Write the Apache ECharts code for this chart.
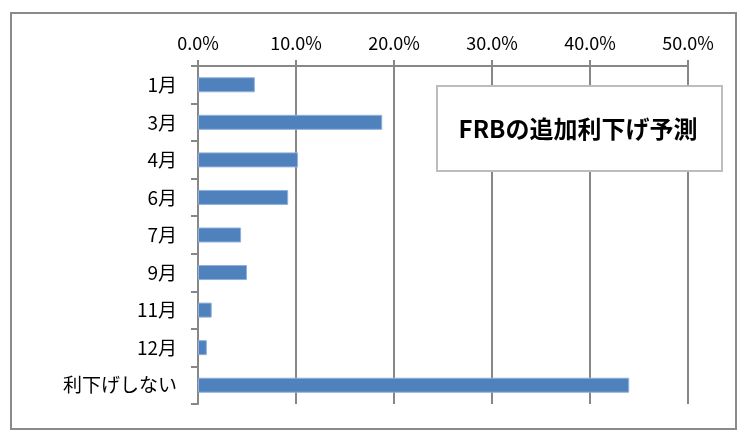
<!DOCTYPE html>
<html><head><meta charset="utf-8">
<script src="https://cdn.jsdelivr.net/npm/echarts@6/dist/echarts.min.js"></script>
<style>html,body{margin:0;padding:0;background:#fff}#c{width:740px;height:436px}</style>
</head><body><div id="c"></div>
<script>
const categories = ['1月','3月','4月','6月','7月','9月','11月','12月','利下げしない'];
const values = [0.058, 0.188, 0.102, 0.092, 0.044, 0.050, 0.014, 0.009, 0.440];
const titleText = 'FRBの追加利下げ予測';
const axisMin = 0, axisMax = 0.5, axisStep = 0.1;

const font = '"Noto Sans CJK JP","Noto Sans",sans-serif';
const gray = '#878787';
const chart = echarts.init(document.getElementById('c'));
chart.setOption({
  animation: false,
  backgroundColor: '#fff',
  grid: {left: 198, right: 52, top: 66, bottom: 32},
  xAxis: {
    type: 'value', position: 'top', min: axisMin, max: axisMax, interval: axisStep,
    axisLine: {show: true, lineStyle: {color: gray, width: 2}},
    axisTick: {show: true, length: 6, lineStyle: {color: gray, width: 2}},
    splitLine: {show: true, lineStyle: {color: gray, width: 2}},
    axisLabel: {color: '#000', fontSize: 18, fontFamily: font, margin: 14,
      formatter: v => (v*100).toFixed(1) + '%'}
  },
  yAxis: {
    type: 'category', data: categories, inverse: true,
    axisLine: {show: true, lineStyle: {color: gray, width: 2}},
    axisTick: {show: true, length: 7, lineStyle: {color: gray, width: 2}},
    axisLabel: {color: '#000', fontSize: 19, fontFamily: font, margin: 21}
  },
  series: [{
    type: 'bar', data: values, barWidth: 15,
    itemStyle: {color: '#4F81BD', borderColor: '#8fb0dc', borderWidth: 1}
  }],
  graphic: [
    {type: 'rect', shape: {x: 11, y: 13, width: 725, height: 416},
     style: {fill: 'none', stroke: '#8a8a8a', lineWidth: 2}, z: 100},
    {type: 'rect', shape: {x: 437, y: 86, width: 285, height: 85},
     style: {fill: '#fff', stroke: '#bdbdbd', lineWidth: 2}, z: 100},
    {type: 'text', x: 578, y: 129, z: 101,
     style: {text: titleText, fill: '#000', font: 'bold 24px ' + font,
       textAlign: 'center', textVerticalAlign: 'middle'}}
  ]
});
</script></body></html>
